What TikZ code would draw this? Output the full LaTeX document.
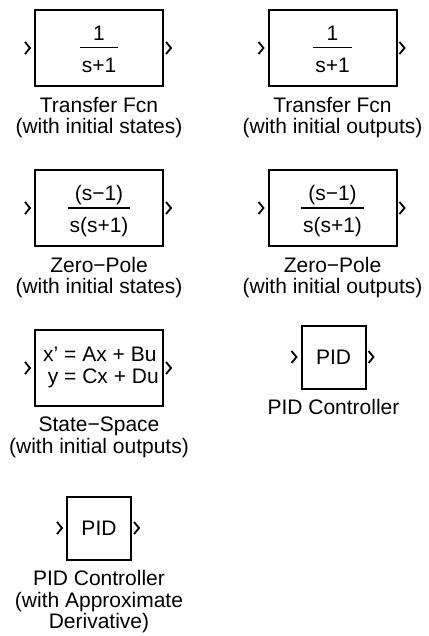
\documentclass[tikz,border=0pt]{standalone}
\usepackage{fontspec}
\setmainfont{Liberation Sans}
\usetikzlibrary{positioning}

\setlength{\arrayrulewidth}{1.8pt}
\newcommand{\blockfrac}[2]{%
  \raisebox{-4pt}[\height][\depth]{%
  \begin{tabular}{@{\hspace{2pt}}c@{\hspace{2pt}}}#1\\[0pt]\hline\rule{0pt}{24pt}#2\end{tabular}}}

\begin{document}
\begin{tikzpicture}[x=1pt,y=-1pt,
        node distance=160pt,
        font=\fontsize{21}{21.5}\selectfont,
        block/.style={draw,line width=2pt,inner sep=0pt,
          minimum width=128pt,minimum height=76pt},
        pidblock/.style={block,minimum width=64pt,minimum height=63pt},
        caption/.style={align=center,inner sep=0pt},
        port/.style={line width=1.8pt}]

      \useasboundingbox (0,0) rectangle (428,636);

      \node[block]    (tfs)  at (99,48)                                 {\blockfrac{1}{s+1}};
      \node[block]    (tfo)  [right of=tfs, node distance=233.5pt]      {\blockfrac{1}{s+1}};
      \node[block]    (zps)  [below of=tfs]                             {\blockfrac{(s−1)}{s(s+1)}};
      \node[block]    (zpo)  [right of=zps, node distance=233.5pt]      {\blockfrac{(s−1)}{s(s+1)}};
      \node[block]    (ss)   [below of=zps]
        {\hspace{4pt}\begin{tabular}{@{}r@{ = }l@{}}x’ & Ax + Bu\\ y & Cx + Du\end{tabular}};
      \node[pidblock] (pid)  [right of=ss, node distance=234.5pt, yshift=11pt] {PID};
      \node[pidblock] (pidd) [below of=ss]                              {PID};

      \node[caption] (tfs-l)  [below=10pt of tfs]  {Transfer Fcn\\(with initial states)};
      \node[caption] (tfo-l)  [below=10pt of tfo]  {Transfer Fcn\\(with initial outputs)};
      \node[caption] (zps-l)  [below=10pt of zps]  {Zero−Pole\\(with initial states)};
      \node[caption] (zpo-l)  [below=10pt of zpo]  {Zero−Pole\\(with initial outputs)};
      \node[caption] (ss-l)   [below=10pt of ss]   {State−Space\\(with initial outputs)};
      \node[caption] (pid-l)  [below=10pt of pid]  {PID Controller};
      \node[caption] (pidd-l) [below=10pt of pidd] {PID Controller\\(with Approximate\\Derivative)};

      \foreach \b in {tfs,tfo,zps,zpo,ss,pid,pidd}{
        \draw[port] ([xshift=-9pt,yshift=6pt]\b.west) -- ++(5pt,-6pt) -- ++(-5pt,-6pt);
        \draw[port] ([xshift=2pt,yshift=6pt]\b.east) -- ++(5pt,-6pt) -- ++(-5pt,-6pt);
      }

    \end{tikzpicture}
\end{document}
